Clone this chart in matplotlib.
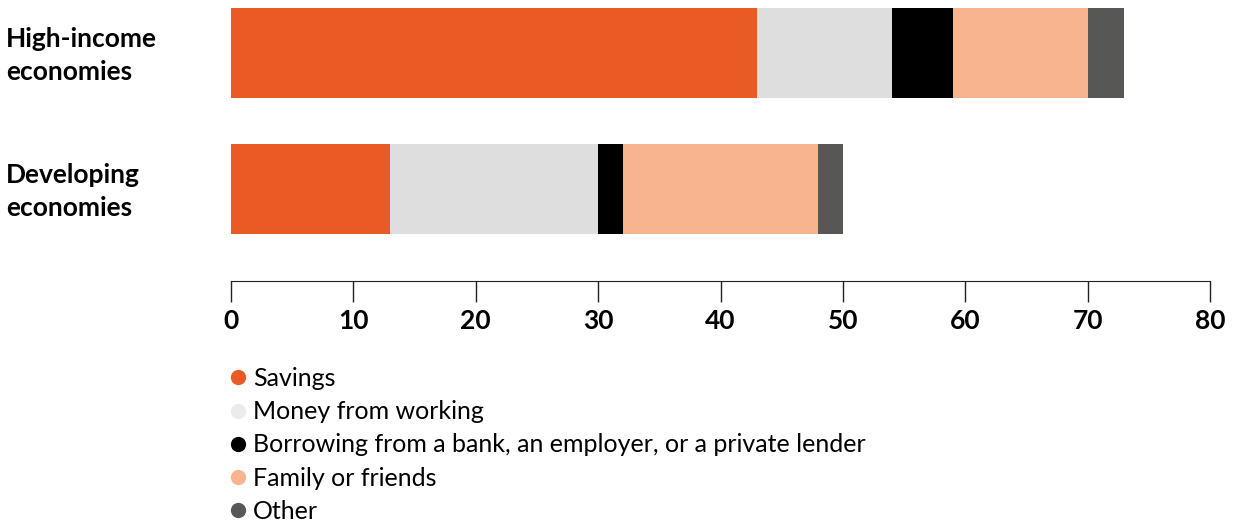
import matplotlib.pyplot as plt
from matplotlib.lines import Line2D
from matplotlib import transforms

plt.rcParams['font.family'] = ['Lato', 'DejaVu Sans']

groups = ["High-income\neconomies", "Developing\neconomies"]
sources = ["Savings", "Money from working",
           "Borrowing from a bank, an employer, or a private lender",
           "Family or friends", "Other"]
high_income = [43, 11, 5, 11, 3]
developing = [13, 17, 2, 16, 2]
colors = ["#E95A24", "#DEDEDE", "#000000", "#F7B48E", "#575755"]
legend_colors = ["#E95A24", "#EBEBEB", "#000000", "#F7B48E", "#575755"]
xticks = [0, 10, 20, 30, 40, 50, 60, 70, 80]

fig = plt.figure(figsize=(12.34, 5.27), dpi=100)
ax = fig.add_axes([231 / 1234, 1 - 281 / 527, (1210 - 231) / 1234, 281 / 527])

ypos = [0, 1]
for i, vals in enumerate([high_income, developing]):
    left = 0
    for v, c in zip(vals, colors):
        ax.barh(ypos[i], v, left=left, height=0.662, color=c, linewidth=0)
        left += v

ax.set_xlim(0, 80)
ax.set_ylim(1.676, -0.39)
ax.set_xticks(xticks)
ax.set_xticklabels([str(t) for t in xticks], fontsize=19, fontweight='bold')
ax.tick_params(axis='x', length=15, width=1, color='#222222', pad=5)
ax.set_yticks([])
for s in ['top', 'right', 'left']:
    ax.spines[s].set_visible(False)
ax.spines['bottom'].set_color('#222222')

# group labels on the left
trans = transforms.blended_transform_factory(fig.transFigure, ax.transData)
for y, g in zip(ypos, groups):
    fig.text(6 / 1234, y + 0.02, g, transform=trans, ha='left', va='center',
             fontsize=19, fontweight='bold', linespacing=1.45)

handles = [Line2D([], [], marker='o', linestyle='none', markersize=11,
                  markerfacecolor=c, markeredgewidth=0) for c in legend_colors]
fig.legend(handles, sources, loc='upper left', bbox_to_anchor=(224 / 1234, 1 - 367 / 527),
           frameon=False, fontsize=18, handletextpad=0.05, labelspacing=0.41,
           handlelength=1.1, borderpad=0, borderaxespad=0)

fig.savefig("out.png", dpi=100)
